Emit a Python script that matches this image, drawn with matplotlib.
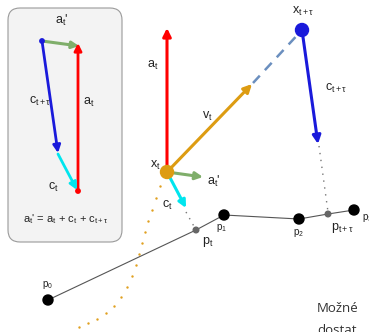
import matplotlib
matplotlib.use("Agg")
import matplotlib.pyplot as plt
from matplotlib.patches import FancyBboxPatch, Circle

plt.rcParams['mathtext.fontset'] = 'custom'
plt.rcParams['mathtext.rm'] = 'Liberation Sans'
plt.rcParams['mathtext.it'] = 'Liberation Sans'
plt.rcParams['mathtext.bf'] = 'Liberation Sans:bold'

# polyline path points (pixel coords)
path_names = ['p0', 'pt', 'p1', 'p2', 'ptt', 'p3']
path_x = [48, 196, 224, 299, 328, 354]
path_y = [300, 230, 215, 219, 214, 210]
big_pts = ['p0', 'p1', 'p2', 'p3']

# key positions
xt = (167, 172)
xtt = (302, 30)

# orange dotted trajectory
traj_x = [160, 156, 152, 148, 145, 142, 139, 136, 132, 127, 121, 114, 106, 97, 88, 79]
traj_y = [186, 198, 210, 221, 232, 243, 254, 265, 276, 287, 297, 306, 313, 319, 323, 327]

fig = plt.figure(figsize=(3.69, 3.32), dpi=100)
ax = fig.add_axes([0, 0, 1, 1])
ax.set_xlim(0, 369)
ax.set_ylim(332, 0)
ax.axis('off')

def arrow(p0, p1, color, lw=2.2, ms=11):
    ax.annotate('', xy=p1, xytext=p0,
                arrowprops=dict(arrowstyle='-|>', color=color, lw=lw,
                                mutation_scale=ms, shrinkA=0, shrinkB=0))

def label(x, y, s, size=9, color='#222222', ha='center'):
    ax.text(x, y, s, fontsize=size, color=color, ha=ha, va='center',
            family='Liberation Sans')

ATP = r"$\mathregular{a_t}$'"

# ---- inset box ----
box = FancyBboxPatch((8, 8), 114, 234, boxstyle='round,pad=0,rounding_size=12',
                     facecolor='#f3f3f3', edgecolor='#9a9a9a', lw=0.8)
ax.add_patch(box)
arrow((42, 41), (79, 46), '#7fae6a', lw=2.2, ms=10)
arrow((78, 191), (78, 43), '#ff0000', lw=2.0, ms=11)
arrow((42, 41), (58, 153), '#1a1adb', lw=2.0, ms=11)
arrow((58, 154), (77, 190), '#00e5ee', lw=2.0, ms=11)
ax.add_patch(Circle((42, 41), 2.2, color='#1a1adb', zorder=5))
ax.add_patch(Circle((78, 191), 2.2, color='#ff0000', zorder=5))
label(62, 20, ATP)
label(40, 101, r"$\mathregular{c_{t+τ}}$")
label(89, 102, r"$\mathregular{a_t}$")
label(53, 187, r"$\mathregular{c_t}$")
label(66, 219, ATP + r" = $\mathregular{a_t}$ + $\mathregular{c_t}$ + $\mathregular{c_{t+τ}}$", size=8)

# ---- main figure ----
ax.scatter(traj_x, traj_y, s=3, color='#e0a020', zorder=2, linewidths=0)
ax.plot(path_x, path_y, color='#555555', lw=0.8, zorder=2)
for n, x, y in zip(path_names, path_x, path_y):
    if n in big_pts:
        ax.add_patch(Circle((x, y), 5, color='black', zorder=4))
    else:
        ax.add_patch(Circle((x, y), 2.8, color='#666666', zorder=4))
ax.plot([186, 196], [212, 230], color='#777777', lw=1.0, ls=(0, (1, 4)), zorder=2)
ax.plot([319, 328], [146, 212], color='#777777', lw=1.0, ls=(0, (1, 4)), zorder=2)
ax.plot([253, 302], [83, 30], color='#6b8fbf', lw=1.8, ls=(0, (4, 3)), zorder=2)

arrow(xt, (167, 28), '#ff0000', lw=2.2, ms=12)
arrow(xt, (252, 84), '#dd9c12', lw=2.2, ms=12)
arrow(xt, (203, 177), '#7fae6a', lw=2.2, ms=11)
arrow(xt, (186, 208), '#00e5ee', lw=2.2, ms=11)
arrow(xtt, (318, 144), '#1a1adb', lw=2.2, ms=12)

ax.add_patch(Circle(xt, 6.5, color='#dd9c12', zorder=5))
ax.add_patch(Circle(xtt, 6.5, color='#1a1adb', zorder=5))

label(155, 165, r"$\mathregular{x_t}$")
label(153, 65, r"$\mathregular{a_t}$")
label(207, 116, r"$\mathregular{v_t}$")
label(214, 181, ATP)
label(167, 205, r"$\mathregular{c_t}$")
label(303, 11, r"$\mathregular{x_{t+τ}}$")
label(336, 88, r"$\mathregular{c_{t+τ}}$")

label(48, 285, r"$\mathregular{p_0}$", size=7)
label(222, 228, r"$\mathregular{p_1}$", size=7)
label(298, 233, r"$\mathregular{p_2}$", size=7)
label(362, 218, r"$\mathregular{p_3}$", size=7, ha='left')
label(208, 242, r"$\mathregular{p_t}$", size=9)
label(343, 228, r"$\mathregular{p_{t+τ}}$", size=9)

ax.text(317, 308, 'Možné', fontsize=9.5, color='#333333', family='Open Sans',
        ha='left', va='center')
ax.text(317, 330, 'dostat', fontsize=9.5, color='#333333', family='Open Sans',
        ha='left', va='center')

fig.savefig('out.png', dpi=100)
